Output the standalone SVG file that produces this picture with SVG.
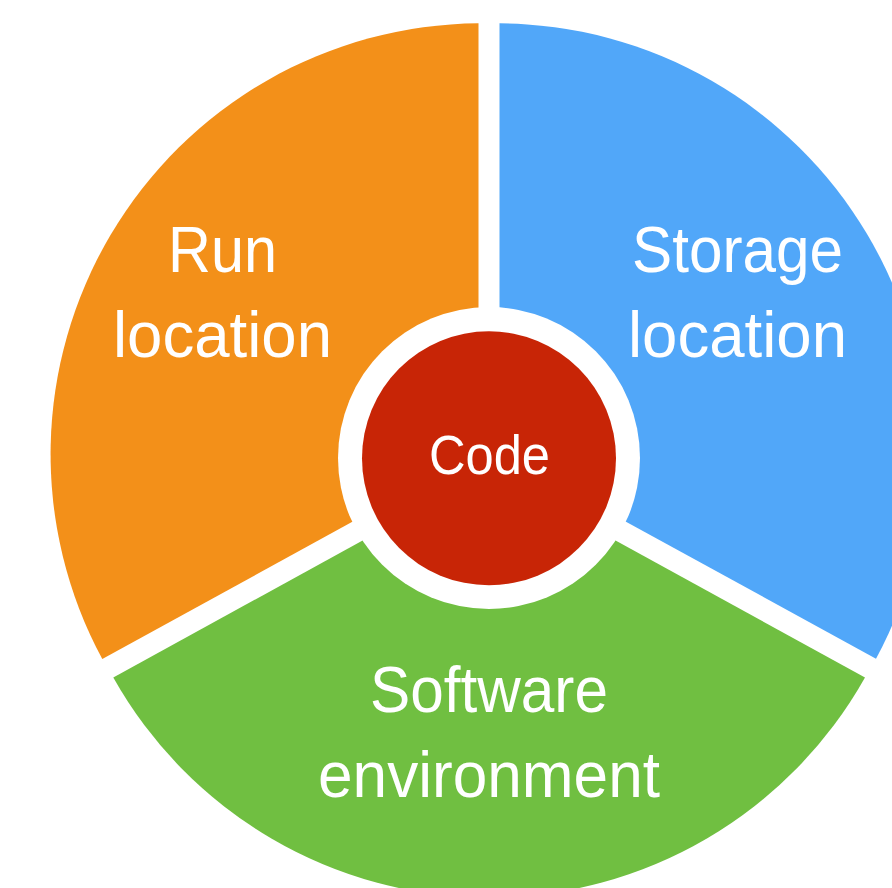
<svg xmlns="http://www.w3.org/2000/svg" width="892" height="888" viewBox="0 0 892 888">
<style>
.lbl{font-family:"Liberation Sans","DejaVu Sans",sans-serif;font-size:65px;fill:#ffffff;text-anchor:middle}
.code{font-size:56px}
</style>
<rect x="0" y="0" width="892" height="888" fill="#ffffff"/>
<g id="run-location">
<path d="M478.5,452.5 L102.3,659 A431,431 0 0 1 478.5,23.3 Z" fill="#F39019"/>
<text class="lbl" x="222.5" y="272" textLength="109" lengthAdjust="spacingAndGlyphs">Run</text>
<text class="lbl" x="222.5" y="357" textLength="219" lengthAdjust="spacingAndGlyphs">location</text>
</g>
<g id="storage-location">
<path d="M499.5,452.5 L499.5,23.3 A431,431 0 0 1 876,658.7 Z" fill="#51A7F9"/>
<text class="lbl" x="737.5" y="272" textLength="211" lengthAdjust="spacingAndGlyphs">Storage</text>
<text class="lbl" x="737.5" y="357" textLength="219" lengthAdjust="spacingAndGlyphs">location</text>
</g>
<g id="software-environment">
<path d="M489,471 L865,677.5 A431,431 0 0 1 113.3,677.5 Z" fill="#70BF41"/>
<text class="lbl" x="489" y="712" textLength="238" lengthAdjust="spacingAndGlyphs">Software</text>
<text class="lbl" x="489" y="797" textLength="342" lengthAdjust="spacingAndGlyphs">environment</text>
</g>
<g id="code">
<circle cx="489" cy="458" r="151" fill="#ffffff"/>
<circle cx="489" cy="458.3" r="127" fill="#C82506"/>
<text class="lbl code" x="489.5" y="474" textLength="121" lengthAdjust="spacingAndGlyphs">Code</text>
</g>
</svg>
